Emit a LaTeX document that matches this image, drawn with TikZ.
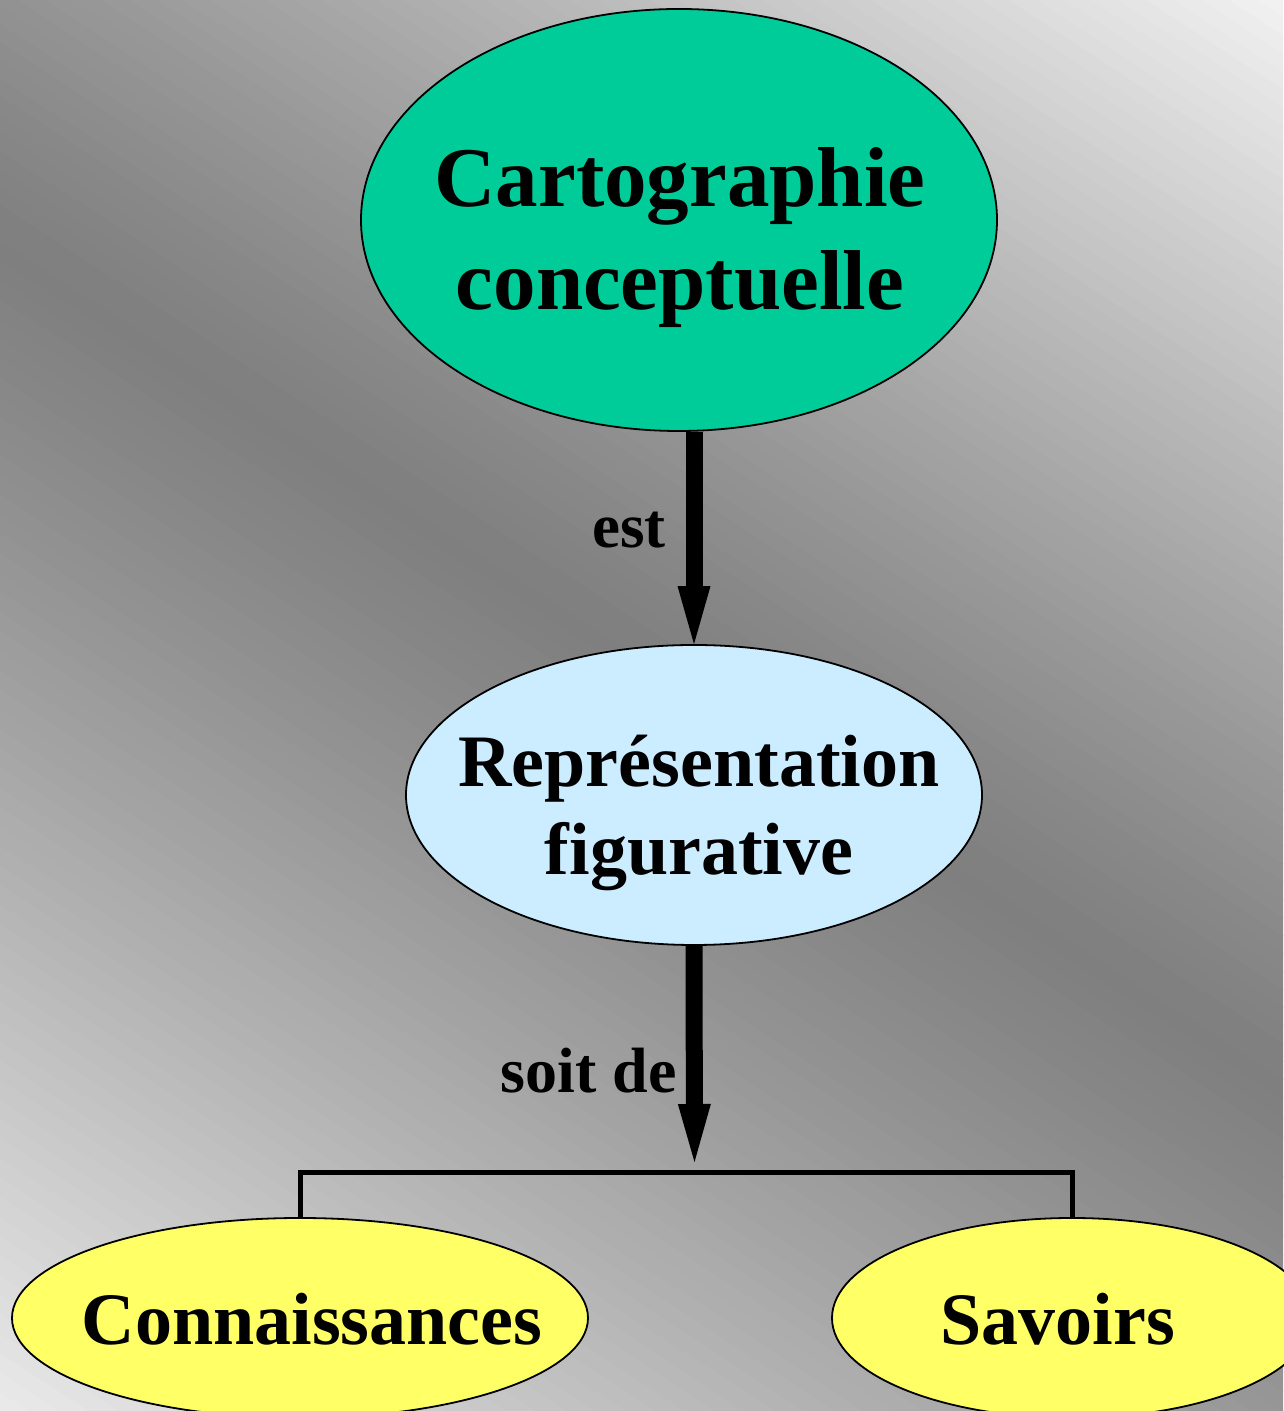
\documentclass[tikz,border=0pt]{standalone}
\usepackage{fontspec}
\setmainfont{Liberation Serif}
\usetikzlibrary{shapes.geometric, arrows.meta}
\definecolor{tealA}{RGB}{0,204,153}
\definecolor{blueA}{RGB}{204,236,255}
\definecolor{yelA}{RGB}{255,255,102}
\definecolor{bgW}{RGB}{242,242,242}
\definecolor{bgD}{RGB}{127,127,127}
\definecolor{bgL}{RGB}{234,234,234}
\begin{document}
\begin{tikzpicture}[x=1pt,y=1pt,
  concept/.style={ellipse, draw=black, line width=1.8pt, inner sep=0pt},
  bigtext/.style={font=\fontsize{85}{100}\selectfont\bfseries, anchor=base, inner sep=0pt},
  midtext/.style={font=\fontsize{74}{88}\selectfont\bfseries, anchor=base, inner sep=0pt},
  linktext/.style={font=\fontsize{64}{76}\selectfont\bfseries, anchor=base east, inner sep=0pt},
  bigarrow/.style={line width=17pt, -{Triangle[length=58pt,width=33pt,line width=0pt]}},
  bracket/.style={line width=5pt}]
\useasboundingbox (0,0) rectangle (1283,1411);
% background: diagonal gradient light - dark - light
\begin{scope}
  \clip (0,0) rectangle (1283,1411);
  \begin{scope}[shift={(641.5,751)}, rotate=-33.2]
    \foreach \i in {0,...,59}{
      \pgfmathsetmacro\ya{-980+\i*16.3333}
      \pgfmathsetmacro\yb{\ya+17.3}
      \pgfmathsetmacro\p{100*(1-(1-(\i+0.5)/60)^1.2)}
      \fill[bgD!\p!bgL] (-1200,\ya) rectangle (1200,\yb);
    }
    \foreach \i in {0,...,59}{
      \pgfmathsetmacro\ya{\i*15.0667}
      \pgfmathsetmacro\yb{\ya+16}
      \pgfmathsetmacro\p{100*((\i+0.5)/60)^1.2}
      \fill[bgW!\p!bgD] (-1200,\ya) rectangle (1200,\yb);
    }
  \end{scope}
\end{scope}
% concepts
\node[concept, fill=tealA, minimum width=636pt, minimum height=422pt] (carto) at (679,1191) {};
\node[bigtext] (cartoA) at (680,1204) {Cartographie};
\node[bigtext] (cartoB) at (680,1101) {conceptuelle};
\node[concept, fill=blueA, minimum width=576pt, minimum height=300pt] (repr) at (694,616) {};
\node[midtext] (reprA) at (699,624) {Représentation};
\node[midtext] (reprB) at (699,536) {figurative};
\node[concept, fill=yelA, minimum width=576pt, minimum height=200pt] (conn) at (300,93) {};
\node[midtext] (connT) at (312,66) {Connaissances};
\node[concept, fill=yelA, minimum width=480pt, minimum height=200pt] (sav) at (1072,93) {};
\node[midtext] (savT) at (1058,66) {Savoirs};
% connectors
\coordinate (fork) at (694.5,238);
\coordinate (forkL) at (conn.north |- fork);
\coordinate (forkR) at (sav.north |- fork);
\coordinate (tipB) at (694.5,249);
\draw[bigarrow] (repr.north |- carto.south) -- (repr.north);
\draw[bigarrow] (repr.south) -- (tipB);
\draw[bracket] (conn.north) -- (forkL) -- (forkR) -- (sav.north);
% link labels
\node[linktext, font=\fontsize{63}{76}\selectfont\bfseries] (est) at (666,863) {est};
\node[linktext] (soit) at (677,318) {soit de};
\end{tikzpicture}
\end{document}
